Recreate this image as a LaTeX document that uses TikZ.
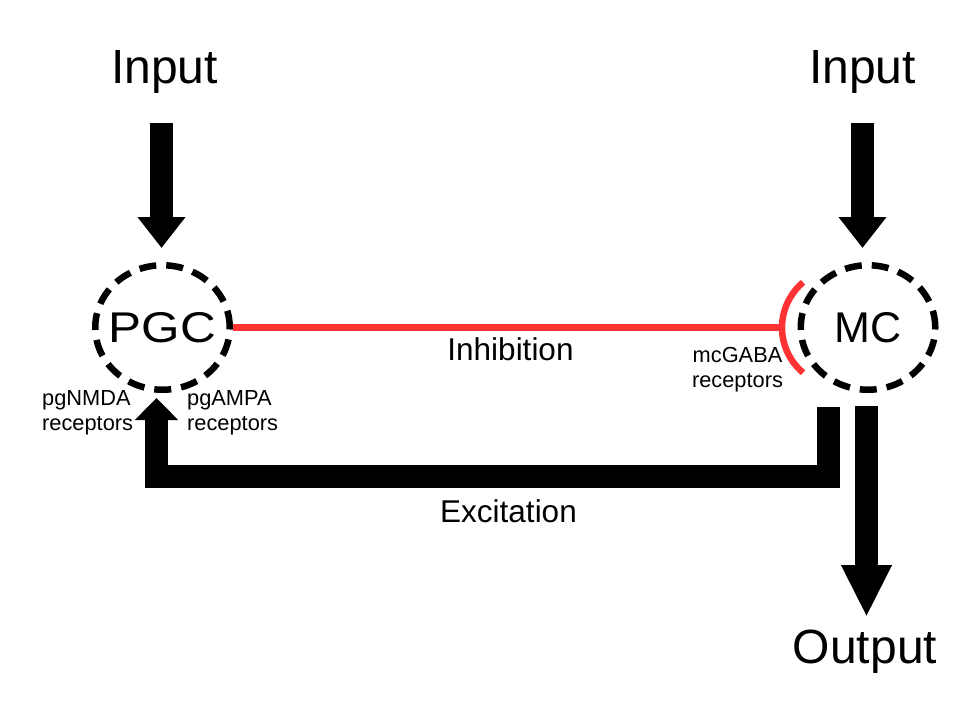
\documentclass[tikz,border=0pt]{standalone}
\usepackage{fontspec}
\setmainfont{Liberation Sans}
\usetikzlibrary{arrows.meta,calc,shapes.geometric}
\definecolor{inhred}{RGB}{255,51,51}
\begin{document}
\begin{tikzpicture}[x=1pt,y=-1pt,
  bigtext/.style={font=\fontsize{48}{56}\selectfont, inner sep=0pt, anchor=base},
  celltext/.style={font=\fontsize{43}{50}\selectfont, inner sep=0pt},
  midtext/.style={font=\fontsize{31.5}{38}\selectfont, inner sep=0pt, anchor=base},
  smalltext/.style={font=\fontsize{21.8}{24.5}\selectfont, inner sep=0pt, anchor=base},
  cell/.style={ellipse, draw=black, line width=6.5pt, dash pattern=on 17pt off 10pt,
    minimum width=134.5pt, minimum height=124.5pt, inner sep=0pt},
  fat/.style={draw=black, line width=23pt, line join=miter},
  inhib/.style={draw=inhred, line width=6.5pt},
]
\useasboundingbox (0,0) rectangle (968,704);
\fill[white] (0,0) rectangle (968,704);

% cells
\node[cell, label={[celltext]center:\scalebox{1.15}[1]{PGC}}] (pgc) at (162.5,327.5) {};
\node[cell, label={[celltext]center:MC}] (mc) at (868,327.5) {};

% texts
\node[bigtext] (in1) at (164.5,83) {Input};
\node[bigtext] (in2) at (862.5,83) {Input};
\node[bigtext] (out) at (865,663) {Output};
\node[midtext] (inh) at (510.5,360) {Inhibition};
\node[midtext] (exc) at (508.5,522) {Excitation};
\node[smalltext, anchor=base west, align=left] (nmda) at (42,430) {pgNMDA\\receptors};
\node[smalltext, anchor=base west, align=left] (ampa) at (187,430) {pgAMPA\\receptors};
\node[smalltext, align=center] (gaba) at (737.5,387) {mcGABA\\receptors};

% coordinates for free ends
\coordinate (i1s) at (161.5,123);
\coordinate (i2s) at (862.5,123);
\coordinate (os) at (866.5,406);
\coordinate (ot) at (866.5,617);
\coordinate (es) at (828.5,407);
\coordinate (et) at (156.5,398);
\coordinate (arcc) at (841,327.5);
\coordinate (syn) at (782,327.5);

% input arrows
\draw[fat, -{Triangle[length=31pt,width=46pt]}, shorten >=14pt] (i1s) -- (i1s |- pgc.north);
\draw[fat, -{Triangle[length=31pt,width=46pt]}, shorten >=14pt] (i2s) -- (i2s |- mc.north);

% output arrow
\draw[fat, -{Triangle[length=52pt,width=47pt]}] (os) -- (ot);

% excitation
\draw[fat, -{Triangle[length=22pt,width=42pt]}] (es) -- ++(0,69.5) -| (et);

% inhibition
\draw[inhib] (pgc.east) -- (syn);
\draw[inhib] (arcc) ++(130:59) arc[start angle=130, end angle=230, radius=59];
\end{tikzpicture}
\end{document}
